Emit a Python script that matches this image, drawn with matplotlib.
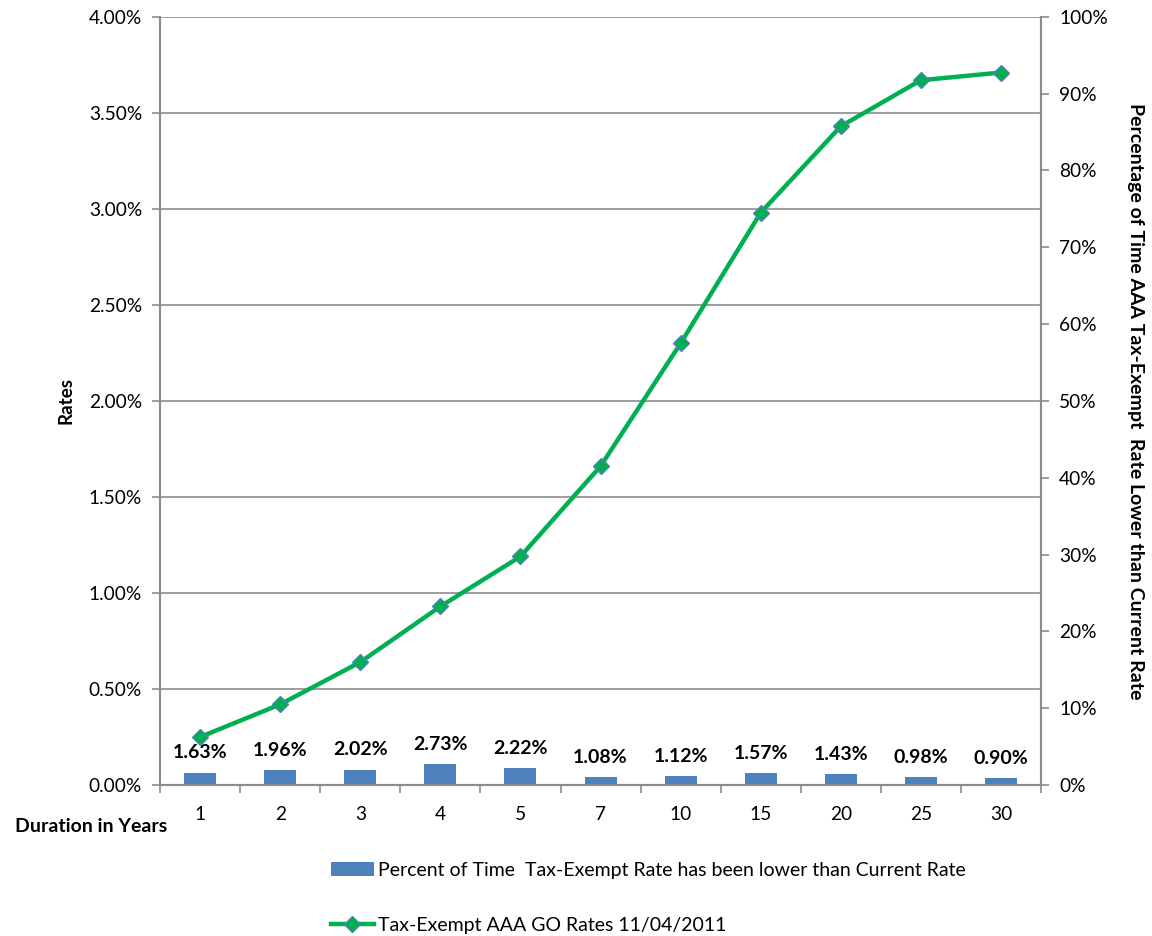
import matplotlib.pyplot as plt
from matplotlib.ticker import FixedLocator, FuncFormatter
from matplotlib.lines import Line2D
from matplotlib.patches import Patch

plt.rcParams['font.family'] = ['Lato', 'DejaVu Sans']

durations = ['1', '2', '3', '4', '5', '7', '10', '15', '20', '25', '30']
pct_lower = [1.63, 1.96, 2.02, 2.73, 2.22, 1.08, 1.12, 1.57, 1.43, 0.98, 0.90]
go_rates = [0.25, 0.42, 0.64, 0.93, 1.19, 1.66, 2.30, 2.98, 3.43, 3.67, 3.71]

bar_color = '#4F81BD'
line_color = '#00B050'
axis_gray = '#8C8C8C'

fig = plt.figure(figsize=(11.52, 9.36), dpi=100)
ax = fig.add_axes([0.139, 0.1613, 0.7646, 0.8207])
ax2 = ax.twinx()

x = list(range(len(durations)))

# bars on the secondary (right) axis
ax2.bar(x, pct_lower, width=0.4, color=bar_color, zorder=2)
for xi, v in zip(x, pct_lower):
    ax2.annotate(f'{v:.2f}%', (xi, v), xytext=(0, 8), textcoords='offset points',
                 ha='center', va='bottom', fontsize=14, fontweight='bold')
ax2.set_ylim(0, 100)
ax2.yaxis.set_major_locator(FixedLocator(range(0, 101, 10)))
ax2.yaxis.set_major_formatter(FuncFormatter(lambda v, p: f'{v:.0f}%'))

# line on the primary (left) axis, drawn above the bars
ax.set_zorder(ax2.get_zorder() + 1)
ax.patch.set_visible(False)
ax.plot(x, go_rates, color=line_color, lw=3.2, marker='D', ms=8,
        markerfacecolor=line_color, markeredgecolor=bar_color, markeredgewidth=1.0,
        zorder=3)
ax.set_ylim(0, 4.0)
ax.yaxis.set_major_locator(FixedLocator([i * 0.5 for i in range(9)]))
ax.yaxis.set_major_formatter(FuncFormatter(lambda v, p: f'{v:.2f}%'))
ax.grid(axis='y', color=axis_gray, lw=1.2, zorder=0)
ax.set_axisbelow(True)

ax.set_xlim(-0.5, len(durations) - 0.5)
ax.set_xticks(x)
ax.set_xticklabels(durations)
ax.set_xticks([i - 0.5 for i in range(len(durations) + 1)], minor=True)
ax.tick_params(axis='x', which='major', length=0, pad=15)
ax.tick_params(axis='x', which='minor', length=6, width=1.2, color=axis_gray)

for a in (ax, ax2):
    for s in a.spines.values():
        s.set_color(axis_gray)
        s.set_linewidth(1.5)
    a.spines['top'].set_visible(False)
    a.tick_params(axis='y', length=6, width=1.2, color=axis_gray, labelsize=13.8, pad=7)
ax.tick_params(axis='x', labelsize=13.8)

ax.set_ylabel('Rates', fontsize=13.5, fontweight='bold', labelpad=10)
ax2.set_ylabel('Percentage of Time AAA Tax-Exempt  Rate Lower than Current Rate',
               fontsize=14, fontweight='bold', rotation=-90, labelpad=26)

fig.text(15 / 1152, 1 - 826 / 936, 'Duration in Years', fontsize=14,
         fontweight='bold', ha='left', va='center')

h_bar = Patch(facecolor=bar_color, edgecolor='none')
h_line = Line2D([], [], color=line_color, lw=3.2, marker='D', ms=8,
                markerfacecolor=line_color, markeredgecolor=bar_color)
leg = fig.legend([h_bar, h_line],
                 ['Percent of Time  Tax-Exempt Rate has been lower than Current Rate',
                  'Tax-Exempt AAA GO Rates 11/04/2011'],
                 loc='upper left', bbox_to_anchor=(323 / 1152, 1 - 854 / 936),
                 frameon=False, fontsize=14, labelspacing=1.95,
                 handlelength=2.2, handletextpad=0.25, borderaxespad=0)

fig.savefig('out.png', dpi=100)
